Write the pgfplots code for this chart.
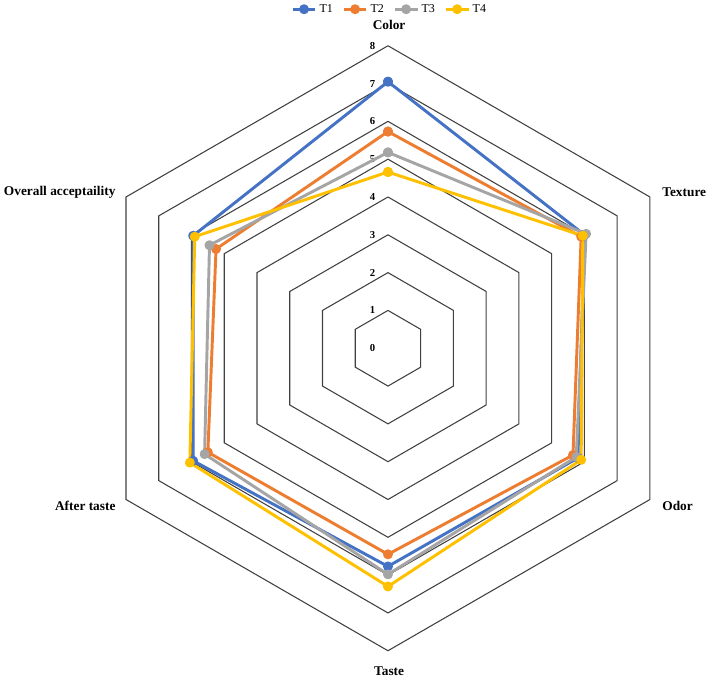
\documentclass[border=0pt]{standalone}
\usepackage{pgfplots}
\pgfplotsset{compat=1.18}
\usepackage{fontspec}
\setmainfont{Liberation Serif}
\definecolor{c1}{HTML}{4472C4}
\definecolor{c2}{HTML}{ED7D31}
\definecolor{c3}{HTML}{A5A5A5}
\definecolor{c4}{HTML}{FFC000}
\begin{document}
\begin{tikzpicture}
\begin{axis}[
  x=28.35pt, y=28.35pt,
  xmin=-10.26, xmax=8.49, ymin=-8.76, ymax=9.21,
  hide axis, clip=false,
  legend columns=4,
  legend style={draw=none, fill=none, at={(axis description cs:0.55,1)}, anchor=north,
    font=\fontsize{9}{10}\selectfont, inner sep=1pt,
    /tikz/every even column/.append style={column sep=5pt}},
]
\pgfplotsinvokeforeach{1,...,8}{
  \addplot[forget plot, black!75, line width=0.8pt, line join=miter, mark=none, data cs=polar]
    coordinates {(90,#1) (30,#1) (-30,#1) (-90,#1) (-150,#1) (150,#1) (90,#1)};
  \node[font=\fontsize{8}{9}\selectfont\bfseries] at (axis cs:-0.41,#1) {#1};
}
\node[font=\fontsize{8}{9}\selectfont\bfseries] at (axis cs:-0.41,0) {0};

\addplot[c1, line width=2.2pt, line join=round, mark=*, mark size=2.6pt, data cs=polar]
  coordinates {(90,7.05) (30,6.0) (-30,5.8) (-90,5.77) (-150,5.95) (150,5.95) (90,7.05)};
\addlegendentry{T1}
\addplot[c2, line width=2.2pt, line join=round, mark=*, mark size=2.6pt, data cs=polar]
  coordinates {(90,5.73) (30,5.9) (-30,5.65) (-90,5.45) (-150,5.5) (150,5.25) (90,5.73)};
\addlegendentry{T2}
\addplot[c3, line width=2.2pt, line join=round, mark=*, mark size=2.6pt, data cs=polar]
  coordinates {(90,5.18) (30,6.05) (-30,5.75) (-90,5.98) (-150,5.6) (150,5.45) (90,5.18)};
\addlegendentry{T3}
\addplot[c4, line width=2.2pt, line join=round, mark=*, mark size=2.6pt, data cs=polar]
  coordinates {(90,4.66) (30,5.95) (-30,5.9) (-90,6.3) (-150,6.05) (150,5.9) (90,4.66)};
\addlegendentry{T4}

\begin{scope}[every node/.style={font=\fontsize{10}{12}\selectfont\bfseries}]
\node at (axis cs:0.03,8.56) {Color};
\node[anchor=west, inner sep=0pt] at (axis cs:7.25,4.13) {Texture};
\node[anchor=west, inner sep=0pt] at (axis cs:7.25,-4.18) {Odor};
\node at (axis cs:0.03,-8.54) {Taste};
\node[anchor=east, inner sep=0pt] at (axis cs:-7.2,-4.18) {After taste};
\node[anchor=east, inner sep=0pt] at (axis cs:-7.2,4.13) {Overall acceptaility};
\end{scope}
\end{axis}
\pgfresetboundingbox
\useasboundingbox (current axis.south west) rectangle (current axis.north east);
\end{tikzpicture}
\end{document}
